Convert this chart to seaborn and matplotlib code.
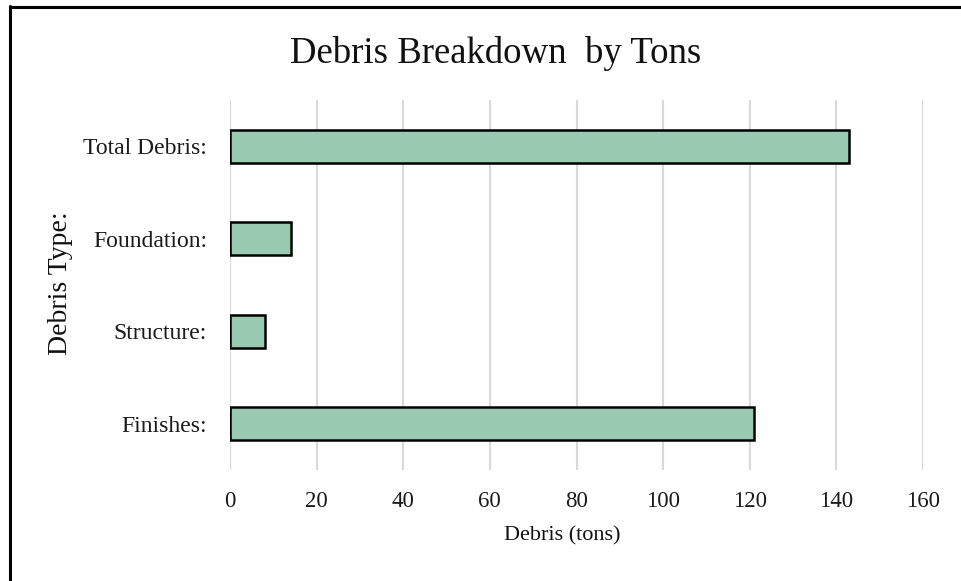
import pandas as pd
import seaborn as sns
import matplotlib.pyplot as plt
from matplotlib.lines import Line2D

# Data
debris_types = ['Total Debris:', 'Foundation:', 'Structure:', 'Finishes:']
tons = [143, 14, 8, 121]
x_ticks = [0, 20, 40, 60, 80, 100, 120, 140, 160]

df = pd.DataFrame({'type': debris_types, 'tons': tons})

sns.set_theme(style='white')
plt.rcParams['font.family'] = ['Liberation Serif', 'DejaVu Serif']

fig = plt.figure(figsize=(9.61, 5.81), dpi=100)
ax = fig.add_axes([0.2393, 0.191, 0.7212, 0.637])

ax.grid(axis='x', color='#d9d9d9', linewidth=1.5, zorder=0)
ax.set_axisbelow(True)
sns.barplot(data=df, x='tons', y='type', color='#9ACAB2', saturation=1,
            width=0.36, edgecolor='black', linewidth=1.8, ax=ax, zorder=3)

ax.set_xlim(0, 160)
ax.set_ylim(3.5, -0.5)
ax.set_xticks(x_ticks)
ax.tick_params(axis='x', labelsize=16.5, pad=15, length=0, colors='#1a1a1a')
ax.tick_params(axis='y', labelsize=17, pad=16.5, length=0, colors='#1a1a1a')
for s in ax.spines.values():
    s.set_visible(False)
ax.set_xlabel('')
ax.set_ylabel('')

fig.text(0.516, 0.908, 'Debris Breakdown  by Tons', ha='center', va='center',
         fontsize=26.5, color='#111111')
fig.text(0.585, 0.077, 'Debris (tons)', ha='center', va='center',
         fontsize=16, color='#111111')
fig.text(0.063, 0.513, 'Debris Type:', ha='center', va='center',
         rotation=90, fontsize=20, color='#111111')

# frame lines at left and top
fig.add_artist(Line2D([0.0104, 0.0104], [0, 0.99], transform=fig.transFigure,
                      color='black', linewidth=2.2))
fig.add_artist(Line2D([0.0104, 1.0], [0.988, 0.988], transform=fig.transFigure,
                      color='black', linewidth=2.2))

fig.savefig('out.png', dpi=100, facecolor='white')
